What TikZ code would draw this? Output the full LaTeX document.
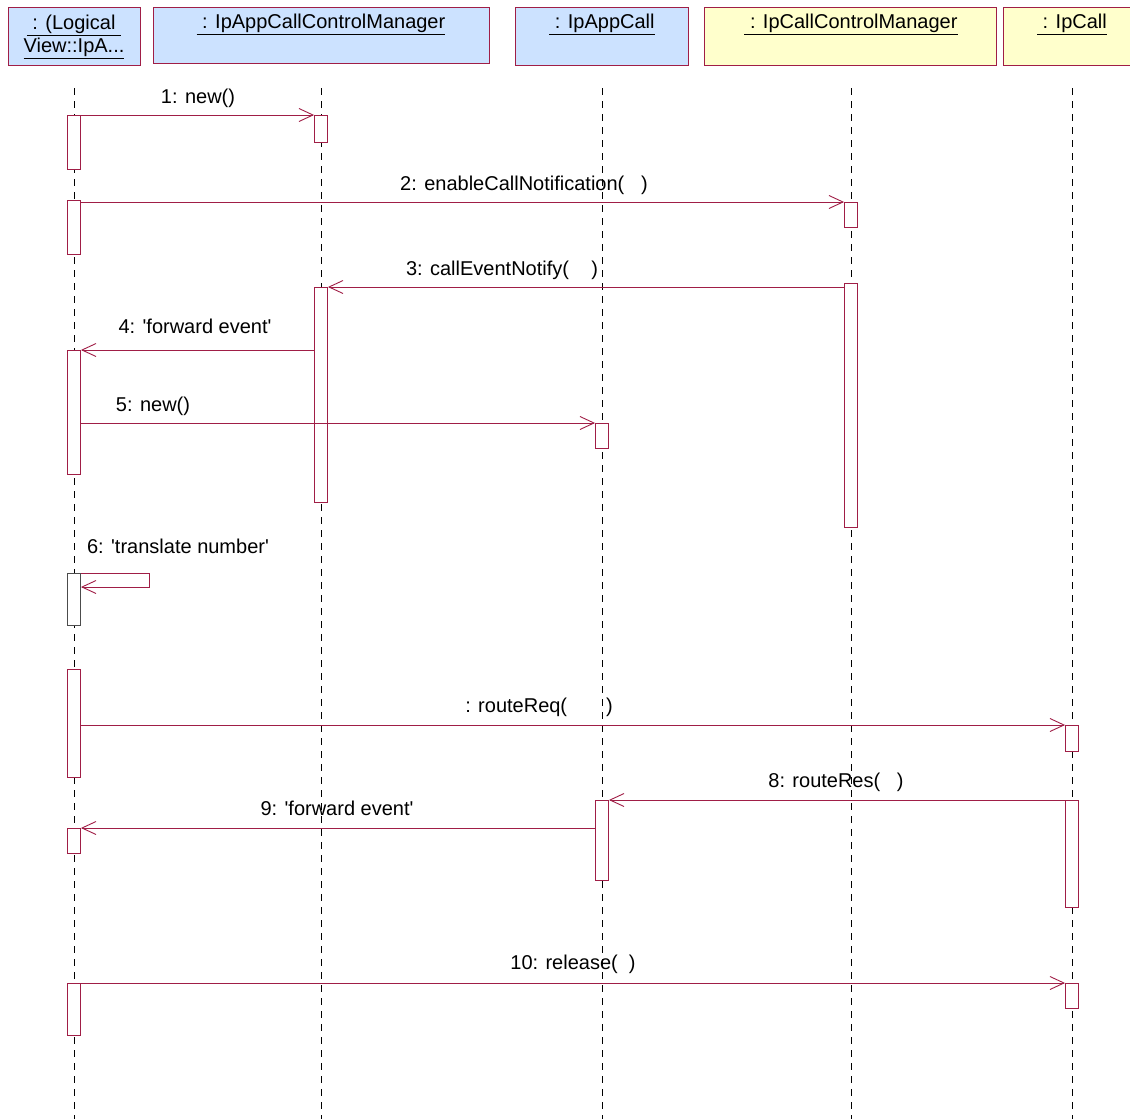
\documentclass[tikz,border=0pt]{standalone}
\usepackage{fontspec}
\setmainfont{Liberation Sans}
\usetikzlibrary{arrows.meta}
\definecolor{mar}{RGB}{160,30,70}
\definecolor{objblue}{RGB}{204,226,255}
\definecolor{objyellow}{RGB}{255,255,204}
\begin{document}
\begin{tikzpicture}[x=1pt,y=-1pt,
  hdr/.style={draw=mar, line width=0.9pt, anchor=north west, inner sep=0pt},
  htxt/.style={font=\fontsize{20}{23}\selectfont, inner sep=0pt, align=center},
  lbl/.style={font=\fontsize{20}{23}\selectfont, inner sep=0pt},
  life/.style={black, line width=0.7pt, dash pattern=on 7pt off 6pt},
  act/.style={draw=mar, fill=white, line width=0.9pt, minimum width=13pt, inner sep=0pt, anchor=north},
  actg/.style={act, draw=black!70},
  msg/.style={draw=mar, line width=0.9pt, -{Straight Barb[length=14pt,width=13pt,line width=0.9pt]}}
]
\useasboundingbox (0,0) rectangle (1130,1119);
\fill[white] (0,0) rectangle (1130,1119);

% headers
\node[hdr, fill=objblue, minimum width=132pt, minimum height=58pt] (h1) at (8,7) {};
\node[hdr, fill=objblue, minimum width=336pt, minimum height=56pt] (h2) at (153,7) {};
\node[hdr, fill=objblue, minimum width=173pt, minimum height=58pt] (h3) at (515,7) {};
\node[hdr, fill=objyellow, minimum width=292pt, minimum height=58pt] (h4) at (704,7) {};
\node[hdr, fill=objyellow, minimum width=140pt, minimum height=58pt] (h5) at (1003,7) {};

\node[htxt] (t1) at (74,37) {\underline{\ : (Logical\ }\\\underline{View::IpA...}};
\node[htxt] (t2) at (321,24) {\underline{\ : IpAppCallControlManager}};
\node[htxt] (t3) at (602,24) {\underline{\ : IpAppCall}};
\node[htxt] (t4) at (851,24) {\underline{\ : IpCallControlManager}};
\node[htxt] (t5) at (1072,24) {\underline{\ : IpCall}};

% lifelines
\coordinate (l1t) at (74,88);   \coordinate (l1b) at (74,1119);
\coordinate (l2t) at (321,88);  \coordinate (l2b) at (321,1119);
\coordinate (l3t) at (602,88);  \coordinate (l3b) at (602,1119);
\coordinate (l4t) at (851,88);  \coordinate (l4b) at (851,1119);
\coordinate (l5t) at (1072,88); \coordinate (l5b) at (1072,1119);
\draw[life] (l1t) -- (l1b);
\draw[life] (l2t) -- (l2b);
\draw[life] (l3t) -- (l3b);
\draw[life] (l4t) -- (l4b);
\draw[life] (l5t) -- (l5b);

% activations
\node[act, minimum height=54pt] (a1) at (74,115) {};
\node[act, minimum height=54pt] (a2) at (74,200) {};
\node[act, minimum height=124pt] (a3) at (74,350) {};
\node[actg, minimum height=52pt] (a4) at (74,573) {};
\node[act, minimum height=108pt] (a5) at (74,669) {};
\node[act, minimum height=25pt] (a6) at (74,828) {};
\node[act, minimum height=52pt] (a7) at (74,983) {};

\node[act, minimum height=27pt] (b1) at (321,115) {};
\node[act, minimum height=215pt] (b2) at (321,287) {};

\node[act, minimum height=25pt] (c1) at (602,423) {};
\node[act, minimum height=80pt] (c2) at (602,800) {};

\node[act, minimum height=25pt] (d1) at (851,202) {};
\node[act, minimum height=244pt] (d2) at (851,283) {};

\node[act, minimum height=26pt] (e1) at (1072,725) {};
\node[act, minimum height=107pt] (e2) at (1072,800) {};
\node[act, minimum height=25pt] (e3) at (1072,983) {};

% messages
\draw[msg] (a1.north east) -- (b1.north west);
\node[lbl] (m1) at (198,98) {1: new()};

\draw[msg] (a2.east |- d1.north) -- (d1.north west);
\node[lbl] (m2) at (524,185) {2: enableCallNotification(\ \ \ )};

\draw[msg] (d2.west |- b2.north) -- (b2.north east);
\node[lbl] (m3) at (502,270) {3: callEventNotify(\ \ \ \ )};

\draw[msg] (b2.west |- a3.north) -- (a3.north east);
\node[lbl] (m4) at (195,326) {4: \textquotesingle forward event\textquotesingle};

\draw[msg] (a3.east |- c1.north) -- (c1.north west);
\node[lbl] (m5) at (153,406) {5: new()};

\draw[msg] (a4.north east) -- ++(68,0) |- ([yshift=-14pt]a4.north east);
\node[lbl] (m6) at (178,546) {6: \textquotesingle translate number\textquotesingle};

\draw[msg] (a5.east |- e1.north) -- (e1.north west);
\node[lbl] (m7) at (539,707) {: routeReq(\ \ \ \ \ \ \ )};

\draw[msg] (e2.north west) -- (c2.north east);
\node[lbl] (m8) at (836,782) {8: routeRes(\ \ \ )};

\draw[msg] (c2.west |- a6.north) -- (a6.north east);
\node[lbl] (m9) at (337,808) {9: \textquotesingle forward event\textquotesingle};

\draw[msg] (a7.north east) -- (e3.north west);
\node[lbl] (m10) at (573,964) {10: release(\ \ )};
\end{tikzpicture}
\end{document}
